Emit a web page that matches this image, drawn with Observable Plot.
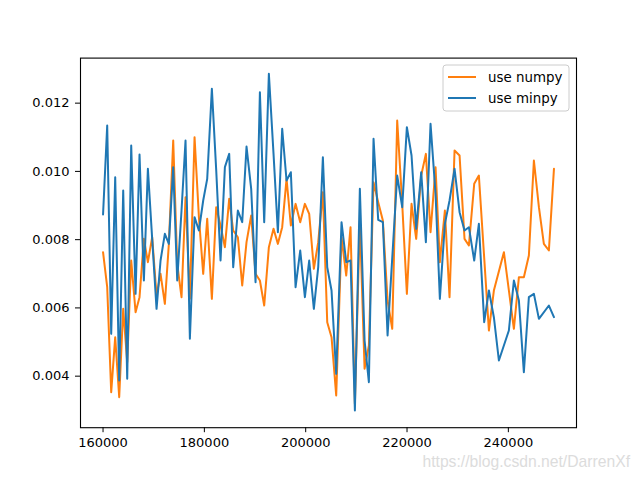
<!DOCTYPE html>
<html><head><meta charset="utf-8">
<script src="https://cdn.jsdelivr.net/npm/d3@7"></script>
<script src="https://cdn.jsdelivr.net/npm/@observablehq/plot@0.6"></script>
<style>body{margin:0;background:#fff;} #chart{width:640px;height:480px;}</style>
</head><body><div id="chart"></div>
<script>
const seriesNames = ["use numpy", "use minpy"];
const seriesColors = ["#ff7f0e", "#1f77b4"];
const xTicks = [160000, 180000, 200000, 220000, 240000];
const yTicks = [0.004, 0.006, 0.008, 0.010, 0.012];
const watermark = "https://blog.csdn.net/DarrenXf";

const numpyX = [160000,160820,161610,162400,163190,163980,164770,165560,166420,167200,168060,168850,169700,170560,171350,172200,172990,173850,174640,175490,176280,
177140,178060,178920,179770,180560,181480,182340,183190,184050,184900,185690,186610,187470,188320,189240,190100,190960,191810,192730,
193650,194510,195360,196220,197070,198000,198920,199840,200690,201610,202470,203390,204250,205100,206020,207070,208000,208850,209710,
210690,211620,212470,213390,214310,215230,216160,217080,218060,219050,219970,220890,221810,222800,223720,224640,225630,226480,
227470,228390,229380,230370,231350,232210,233260,234180,236160,237140,239120,241090,242080,243060,244050,245040,246030,247010,248000,249000];
const numpyY = [0.007633,0.006607,0.003531,0.005142,0.003384,0.005973,0.004410,0.007389,0.005875,0.006314,0.008024,0.007340,0.008072,0.006363,0.006998,0.006119,0.007877,0.010905,0.007291,0.006314,0.009245,
0.006266,0.011003,0.008659,0.006998,0.008610,0.006266,0.008952,0.008414,0.007779,0.009196,0.008268,0.008072,0.006656,0.007926,0.008707,0.006998,0.006803,0.006070,0.007779,
0.008317,0.007877,0.008365,0.009782,0.008414,0.009049,0.008512,0.009049,0.008756,0.007145,0.007926,0.009391,0.005582,0.005142,0.003433,0.008072,0.006949,0.008365,0.003189,
0.008561,0.004215,0.004898,0.009684,0.009098,0.008561,0.006217,0.005387,0.011491,0.009049,0.006412,0.009049,0.008024,0.009879,0.010514,0.008219,0.010124,0.007340,
0.008854,0.006314,0.010612,0.010465,0.008024,0.007828,0.009635,0.009879,0.005338,0.006510,0.007633,0.005387,0.006900,0.006900,0.007535,0.010319,0.008952,0.007877,0.007682,0.010075];

const minpyX = [160000,160820,161610,162400,163190,163980,164770,165560,166420,167200,168060,168850,169700,170560,171350,172200,172990,173850,174640,175490,176280,
177140,178060,178920,179770,180560,181480,182340,183190,184050,184900,185690,186610,187470,188320,189240,190100,190960,191810,192730,
193650,194510,195360,196220,197070,198000,198920,199840,200690,201610,202470,203390,204250,205100,206020,207070,208000,208850,209710,
210690,211620,212470,213390,214310,215230,216160,218060,219050,219970,220890,221810,222800,223720,224640,225630,226480,
227470,228390,229380,230370,231350,232210,233260,234180,235230,236160,237140,238130,240100,241090,242080,243060,244050,245040,246030,248000,249000];
const minpyY = [0.008737,0.011344,0.005240,0.009831,0.003873,0.009440,0.003922,0.010758,0.006412,0.010495,0.006803,0.010075,0.008024,0.005973,0.007389,0.008170,0.007877,0.010124,0.006803,0.008854,0.010905,
0.005094,0.008659,0.008268,0.009147,0.009782,0.012419,0.010026,0.007389,0.010124,0.010514,0.007193,0.008854,0.008512,0.010729,0.009489,0.006754,0.012321,0.008512,0.012858,
0.010514,0.008219,0.011247,0.009733,0.009977,0.006607,0.007682,0.006314,0.007389,0.005973,0.007193,0.010417,0.007193,0.006510,0.004068,0.008512,0.007340,0.007389,0.002994,
0.009489,0.005045,0.003824,0.010954,0.008580,0.008512,0.005191,0.009879,0.008952,0.011296,0.010465,0.008317,0.009977,0.007926,0.011393,0.009342,0.006266,
0.008463,0.009147,0.010075,0.008805,0.008268,0.008365,0.007389,0.008463,0.005582,0.006510,0.005728,0.004459,0.005338,0.006803,0.006217,0.004117,0.006315,0.006412,0.005680,0.006070,0.005728];

const numpy = numpyX.map((x, i) => ({x, y: numpyY[i]}));
const minpy = minpyX.map((x, i) => ({x, y: minpyY[i]}));

const plot = Plot.plot({
  width: 640, height: 480,
  marginLeft: 80, marginRight: 64, marginTop: 57.6, marginBottom: 52.8,
  style: {fontFamily: "DejaVu Sans", fontSize: "13px", color: "black", background: "white"},
  x: {domain: [155550, 253450], label: null},
  y: {domain: [0.00249, 0.01332], label: null},
  marks: [
    Plot.line(numpy, {x: "x", y: "y", stroke: seriesColors[0], strokeWidth: 2}),
    Plot.line(minpy, {x: "x", y: "y", stroke: seriesColors[1], strokeWidth: 2}),
    Plot.frame({stroke: "black", strokeWidth: 1.1}),
    Plot.axisX({ticks: xTicks, tickFormat: d3.format("d"), tickSize: 5, tickPadding: 5, label: null}),
    Plot.axisY({ticks: yTicks, tickFormat: d3.format(".3f"), tickSize: 5, tickPadding: 6, label: null})
  ]
});
document.getElementById("chart").appendChild(plot);

// legend (upper right, matplotlib style)
const svg = d3.select(plot);
const lg = svg.append("g").attr("font-family", "DejaVu Sans").attr("font-size", "13.4px").attr("text-anchor", "start");
lg.append("rect").attr("x", 443).attr("y", 65).attr("width", 126).attr("height", 46)
  .attr("rx", 3).attr("fill", "white").attr("fill-opacity", 0.8).attr("stroke", "#cccccc").attr("stroke-width", 1);
seriesNames.forEach((name, i) => {
  const yy = 77 + i * 21;
  lg.append("line").attr("x1", 448).attr("x2", 476).attr("y1", yy).attr("y2", yy)
    .attr("stroke", seriesColors[i]).attr("stroke-width", 2);
  lg.append("text").attr("x", 488).attr("y", yy).attr("dy", "0.35em").attr("fill", "black").text(name);
});
// watermark
svg.append("text").attr("x", 630).attr("y", 467).attr("text-anchor", "end")
  .attr("font-family", "Liberation Sans").attr("font-size", "15.7px").attr("fill", "#dcdcdc").text(watermark);
</script>
</body></html>
